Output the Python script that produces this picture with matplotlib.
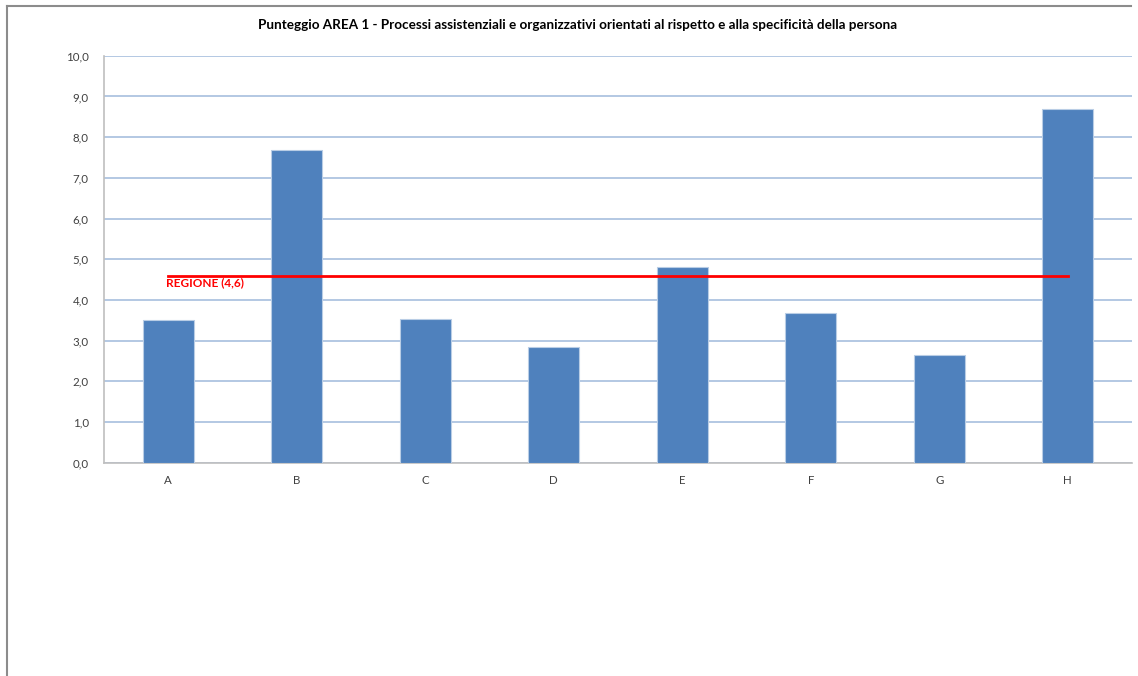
import matplotlib
matplotlib.use("Agg")
import matplotlib.pyplot as plt
from matplotlib.lines import Line2D
import numpy as np

categories = ["A", "B", "C", "D", "E", "F", "G", "H"]
punteggio = [3.50, 7.69, 3.53, 2.85, 4.82, 3.68, 2.65, 8.69]
regione_value = 4.6
regione = [regione_value] * len(categories)
regione_label = "REGIONE (4,6)"
title = "Punteggio AREA 1 - Processi assistenziali e organizzativi orientati al rispetto e alla specificità della persona"
yticks = [0, 1, 2, 3, 4, 5, 6, 7, 8, 9, 10]

plt.rcParams['font.family'] = ['Lato', 'DejaVu Sans']

W, H = 1138, 676
fig = plt.figure(figsize=(W / 100, H / 100), dpi=100)
fig.patch.set_facecolor("white")

# chart border (top and left visible)
fig.add_artist(Line2D([7 / W, 1131 / W], [1 - 6 / H, 1 - 6 / H], color="#8c8c8c", lw=1.5))
fig.add_artist(Line2D([7 / W, 7 / W], [0, 1 - 6 / H], color="#8c8c8c", lw=1.5))

left, right = 104 / W, 1132 / W
bottom, top = 1 - 462.8 / H, 1 - 55.8 / H
ax = fig.add_axes([left, bottom, right - left, top - bottom])

x = np.arange(len(categories))
ax.bar(x, punteggio, width=0.4, color="#4F81BD", edgecolor="#B9CDE5", linewidth=0.8, zorder=3)
ax.plot(x, regione, color="#FF0000", lw=2, zorder=4)
ax.text(x[0] - 0.02, regione_value - 0.05, regione_label, color="#FF0000", fontweight="bold",
        fontsize=8.5, ha="left", va="top", zorder=5)

ax.set_xlim(-0.5, len(categories) - 0.5)
ax.set_ylim(0, 10)
ax.set_yticks(yticks)
ax.set_yticklabels([f"{v:.1f}".replace(".", ",") for v in yticks])
ax.set_xticks(x)
ax.set_xticklabels(categories)
ax.tick_params(axis="both", length=0, labelsize=8.3, colors="#404040")
ax.tick_params(axis="y", pad=11)
ax.tick_params(axis="x", pad=9)
ax.yaxis.grid(True, color="#A7BFDE", lw=1.2, zorder=0)
ax.set_axisbelow(True)
for s in ["top", "right"]:
    ax.spines[s].set_visible(False)
for s in ["left", "bottom"]:
    ax.spines[s].set_color("#BFBFBF")
    ax.spines[s].set_linewidth(1.2)

fig.text(578 / W, 1 - 25 / H, title, ha="center", va="center", fontsize=9.7, fontweight="bold", color="#000000")

fig.savefig("out.png", dpi=100)
